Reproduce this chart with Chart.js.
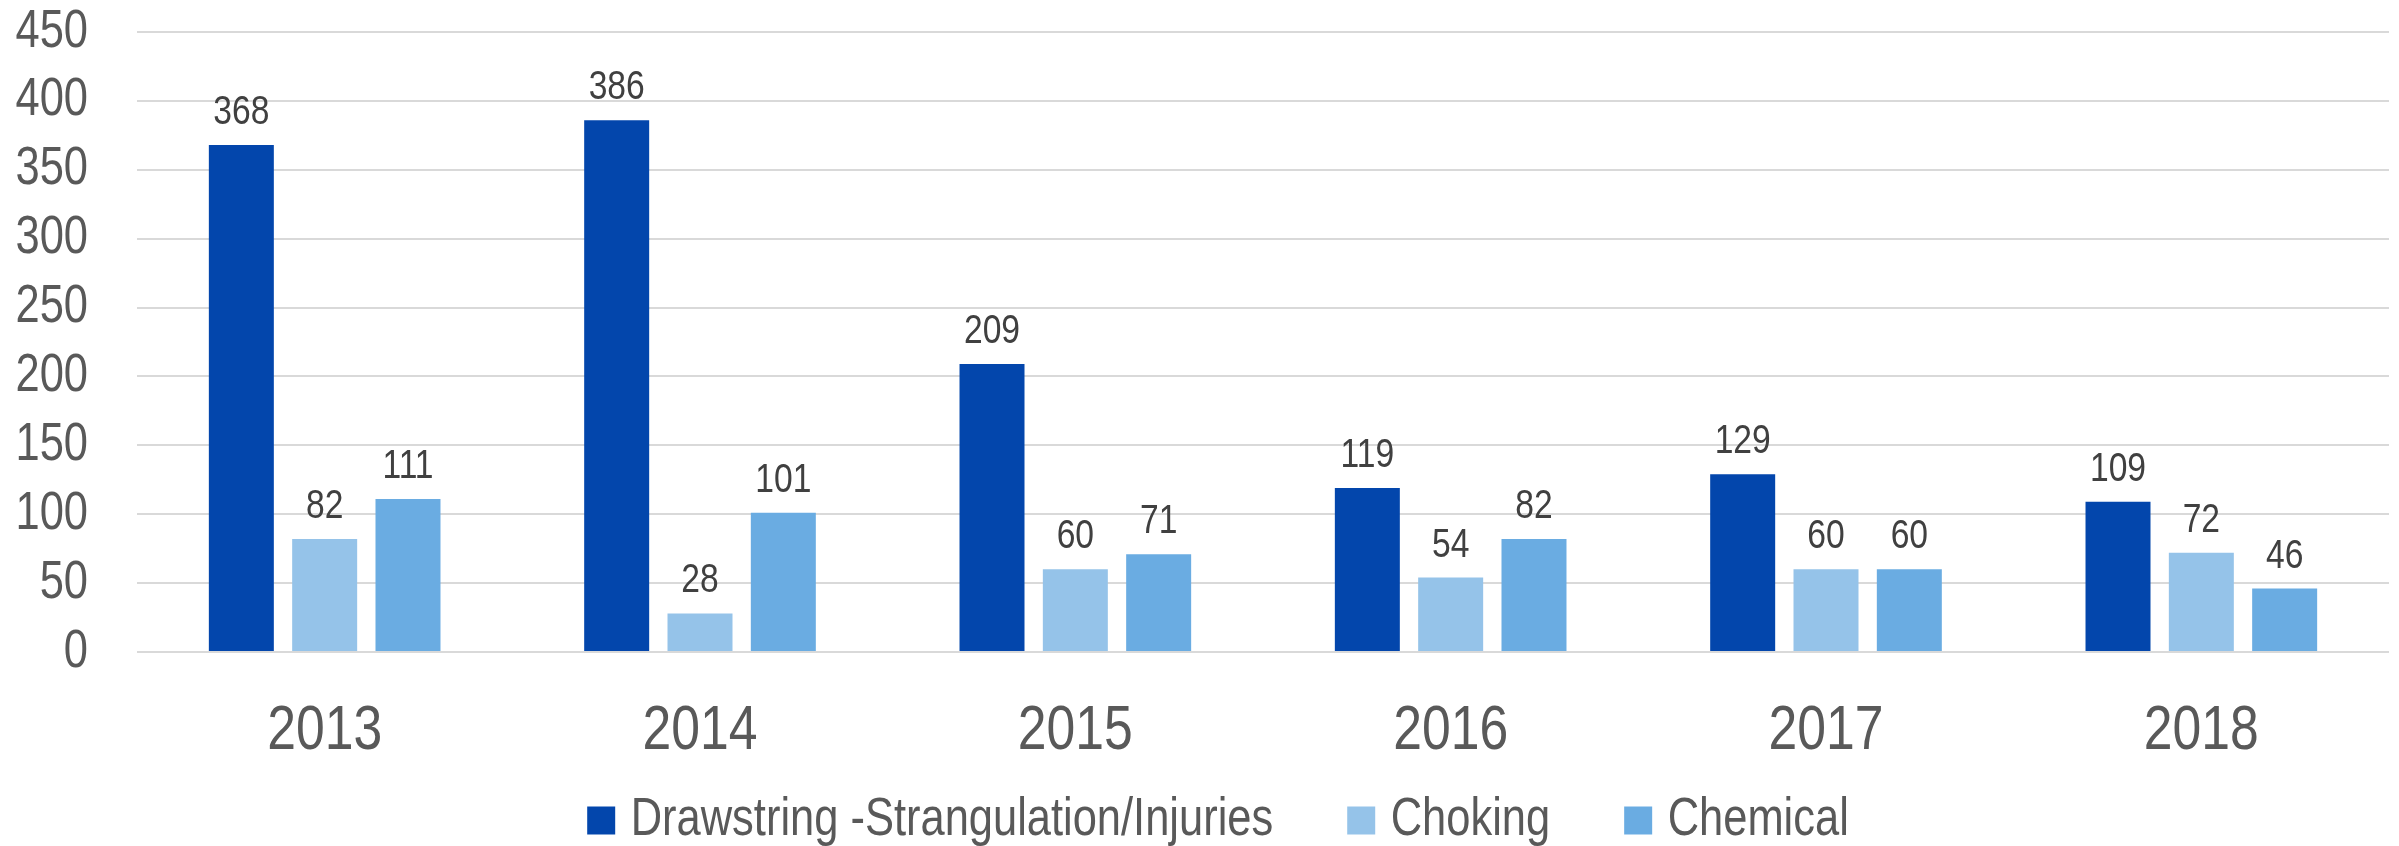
<!DOCTYPE html>
<html>
<head>
<meta charset="utf-8">
<script src="https://cdn.jsdelivr.net/npm/chart.js@4.4.1/dist/chart.umd.min.js"></script>
<style>
  html, body { margin: 0; padding: 0; background: #fff; }
  #wrap { width: 2399px; height: 846px; position: relative; }
</style>
</head>
<body>
<div id="wrap"><canvas id="hazardChart"></canvas></div>
<script>
// chart data
const years = ['2013', '2014', '2015', '2016', '2017', '2018'];
const drawstring = [368, 386, 209, 119, 129, 109];
const choking = [82, 28, 60, 54, 60, 72];
const chemical = [111, 101, 71, 82, 60, 46];
const yTicks = [0, 50, 100, 150, 200, 250, 300, 350, 400, 450];

const FONT = "'Liberation Sans', Arial, sans-serif";
const NARROW = 0.82; // no Arial Narrow here, so squeeze the text instead

// squeeze every text the chart writes (and measures) horizontally
const narrowText = {
    id: 'narrowText',
    beforeInit(chart) {
        const ctx = chart.ctx;
        const fill = ctx.fillText.bind(ctx);
        const measure = ctx.measureText.bind(ctx);
        ctx.fillText = function (text, x, y, maxWidth) {
            ctx.save();
            ctx.translate(x, y);
            ctx.scale(NARROW, 1);
            if (maxWidth !== undefined) fill(text, 0, 0, maxWidth / NARROW);
            else fill(text, 0, 0);
            ctx.restore();
        };
        ctx.measureText = function (text) {
            const m = measure(text);
            return {
                width: m.width * NARROW,
                actualBoundingBoxAscent: m.actualBoundingBoxAscent,
                actualBoundingBoxDescent: m.actualBoundingBoxDescent
            };
        };
    }
};

// draws the number above each bar
const barValues = {
    id: 'barValues',
    afterDatasetsDraw(chart) {
        const ctx = chart.ctx;
        ctx.save();
        ctx.font = '41px ' + FONT;
        ctx.fillStyle = '#404040';
        ctx.textAlign = 'center';
        ctx.textBaseline = 'alphabetic';
        chart.data.datasets.forEach((ds, i) => {
            chart.getDatasetMeta(i).data.forEach((bar, j) => {
                ctx.fillText(String(ds.data[j]), bar.x, bar.y - 21);
            });
        });
        ctx.restore();
    }
};

// legend: small box in the layout, then moved so the wide item
// padding doesn't push the row off the canvas
const legendPlace = {
    id: 'legendPlace',
    beforeInit(chart) {
        const fit = chart.legend.fit;
        chart.legend.fit = function () {
            fit.call(this);
            this.height = 84;
        };
    },
    afterLayout(chart) {
        const lg = chart.legend;
        lg.top = 709;
        lg.bottom = 846;
        lg.height = 137;
        lg.left = 58;
    }
};

new Chart(document.getElementById('hazardChart'), {
    type: 'bar',
    data: {
        labels: years,
        datasets: [
            { label: 'Drawstring -Strangulation/Injuries', data: drawstring, backgroundColor: '#0346AC' },
            { label: 'Choking', data: choking, backgroundColor: '#95C3E9' },
            { label: 'Chemical', data: chemical, backgroundColor: '#6AACE2' }
        ]
    },
    options: {
        responsive: true,
        maintainAspectRatio: false,
        devicePixelRatio: 1,
        animation: false,
        categoryPercentage: 0.666,
        barPercentage: 0.78,
        layout: { padding: { top: 32, right: 10, left: 0, bottom: 0 } },
        plugins: {
            legend: {
                position: 'bottom',
                labels: {
                    usePointStyle: true,
                    pointStyle: 'rect',
                    boxWidth: 6,
                    boxHeight: 28,
                    padding: 85,
                    color: '#595959',
                    font: { family: FONT, size: 53, lineHeight: 1.2 }
                }
            },
            tooltip: { enabled: false }
        },
        scales: {
            x: {
                grid: { display: false },
                border: { display: false },
                ticks: {
                    color: '#595959',
                    padding: 34,
                    autoSkip: false,
                    maxRotation: 0,
                    minRotation: 0,
                    font: { family: FONT, size: 63 }
                },
                afterFit(scale) { scale.height = 110; }
            },
            y: {
                min: 0,
                max: 450,
                afterBuildTicks(scale) { scale.ticks = yTicks.map(v => ({ value: v })); },
                grid: { color: '#D9D9D9', lineWidth: 2, drawTicks: false },
                border: { display: false },
                ticks: {
                    color: '#595959',
                    padding: 49,
                    autoSkip: false,
                    font: { family: FONT, size: 53, lineHeight: 1.2 }
                },
                afterFit(scale) {
                    scale.width = 137;
                    scale.paddingTop = 0;
                    scale.paddingBottom = 0;
                }
            }
        }
    },
    plugins: [narrowText, barValues, legendPlace]
});
</script>
</body>
</html>
